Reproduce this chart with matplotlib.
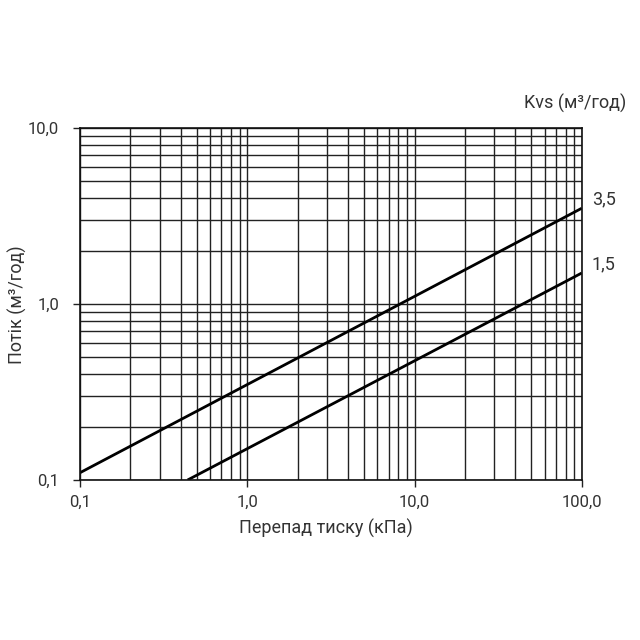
import matplotlib
matplotlib.use("Agg")
import matplotlib.pyplot as plt
from matplotlib.ticker import FixedLocator, LogLocator, NullFormatter

plt.rcParams['font.family'] = ['Roboto', 'DejaVu Sans']

kvs_labels = ["3,5", "1,5"]
dp_kvs35 = [0.1, 100.0]
q_kvs35 = [0.11, 3.5]
dp_kvs15 = [0.44, 100.0]
q_kvs15 = [0.1, 1.5]
x_ticks = [0.1, 1.0, 10.0, 100.0]
x_ticklabels = ["0,1", "1,0", "10,0", "100,0"]
y_ticks = [0.1, 1.0, 10.0]
y_ticklabels = ["0,1", "1,0", "10,0"]

txt = "#333333"
fig = plt.figure(figsize=(6.4, 6.4), dpi=100)
ax = fig.add_axes([0.125, 0.25, 0.784, 0.55])
ax.set_xscale('log')
ax.set_yscale('log')
ax.set_xlim(0.1, 100)
ax.set_ylim(0.1, 10)

ax.plot(dp_kvs35, q_kvs35, color='black', lw=2.0, solid_capstyle='butt', clip_on=True)
ax.plot(dp_kvs15, q_kvs15, color='black', lw=2.0, solid_capstyle='butt', clip_on=True)

ax.xaxis.set_major_locator(FixedLocator(x_ticks))
ax.yaxis.set_major_locator(FixedLocator(y_ticks))
ax.set_xticklabels(x_ticklabels)
ax.set_yticklabels(y_ticklabels)
ax.xaxis.set_minor_locator(LogLocator(base=10, subs=range(2, 10)))
ax.yaxis.set_minor_locator(LogLocator(base=10, subs=range(2, 10)))
ax.xaxis.set_minor_formatter(NullFormatter())
ax.yaxis.set_minor_formatter(NullFormatter())
ax.grid(True, which='both', color='#222222', lw=1.0)
ax.set_axisbelow(True)
ax.tick_params(which='major', length=5, width=1, color='#222222', labelsize=12, labelcolor=txt, pad=6)
ax.tick_params(axis='y', which='major', pad=10)
ax.tick_params(which='minor', length=0)
for s in ax.spines.values():
    s.set_color('#111111')
    s.set_linewidth(1.2)

ax.set_xlabel("Перепад тиску (кПа)", fontsize=13, color=txt)
ax.xaxis.set_label_coords(0.49, -0.111)
ax.set_ylabel("Потік (м³/год)", fontsize=13, color=txt)
ax.yaxis.set_label_coords(-0.106, 0.497)

ax.text(1.02, q_kvs35[-1], kvs_labels[0], transform=ax.get_yaxis_transform(), fontsize=13, color=txt, va='bottom', ha='left')
ax.text(1.02, q_kvs15[-1], kvs_labels[1], transform=ax.get_yaxis_transform(), fontsize=13, color=txt, va='bottom', ha='left')
fig.text(0.898, 0.838, "Kvs (м³/год)", fontsize=13, color=txt, ha='center', va='center')

fig.savefig("out.png", dpi=100, facecolor='white')
